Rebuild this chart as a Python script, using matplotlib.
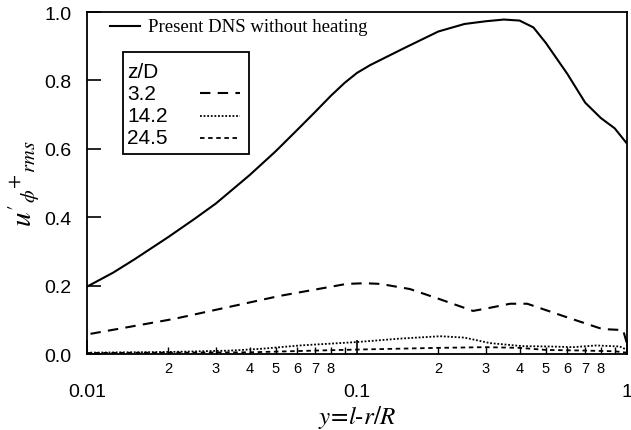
import matplotlib
matplotlib.use("Agg")
import matplotlib.pyplot as plt
from matplotlib.ticker import FixedLocator, FixedFormatter
from matplotlib.lines import Line2D
from matplotlib.patches import Rectangle

plt.rcParams['mathtext.fontset'] = 'stix'

# Present DNS without heating
x_dns = [0.010, 0.0125, 0.015, 0.020, 0.025, 0.030, 0.040, 0.050, 0.060, 0.070,
         0.080, 0.090, 0.10, 0.112, 0.15, 0.20, 0.25, 0.30, 0.35, 0.40, 0.45,
         0.50, 0.60, 0.70, 0.80, 0.90, 1.00]
y_dns = [0.197, 0.238, 0.277, 0.342, 0.395, 0.44, 0.523, 0.593, 0.655, 0.708,
         0.755, 0.793, 0.822, 0.845, 0.895, 0.943, 0.965, 0.973, 0.978, 0.975, 0.955,
         0.91, 0.82, 0.735, 0.69, 0.66, 0.615]

# z/D = 3.2
x_32 = [0.0103, 0.0211, 0.0518, 0.0915, 0.107, 0.122, 0.157, 0.203, 0.269,
        0.31, 0.369, 0.427, 0.596, 0.81, 0.967, 1.0]
y_32 = [0.059, 0.103, 0.17, 0.205, 0.207, 0.205, 0.19, 0.16, 0.126,
        0.135, 0.147, 0.147, 0.108, 0.073, 0.07, 0.03]

# z/D = 14.2
x_142 = [0.0103, 0.0203, 0.0339, 0.0438, 0.0615, 0.1, 0.144, 0.203, 0.25,
         0.31, 0.41, 0.52, 0.63, 0.77, 0.94, 1.0]
y_142 = [0.004, 0.006, 0.010, 0.015, 0.025, 0.035, 0.045, 0.052, 0.048,
         0.032, 0.023, 0.022, 0.020, 0.025, 0.022, 0.012]

# z/D = 24.5
x_245 = [0.01, 0.02, 0.04, 0.07, 0.1, 0.2, 0.3, 0.4, 0.5, 0.7, 0.9, 1.0]
y_245 = [0.003, 0.004, 0.005, 0.010, 0.013, 0.018, 0.020, 0.018, 0.012,
         0.010, 0.008, 0.004]

legend_title = 'z/D'
legend_labels = ['3.2', '14.2', '24.5']
header_label = 'Present DNS without heating'
major_x = [0.01, 0.1, 1]
major_x_labels = ['0.01', '0.1', '1']
minor_x = [2e-2, 3e-2, 4e-2, 5e-2, 6e-2, 7e-2, 8e-2, 9e-2,
           2e-1, 3e-1, 4e-1, 5e-1, 6e-1, 7e-1, 8e-1, 9e-1]
minor_x_labels = ['2', '3', '4', '5', '6', '7', '8', '',
                  '2', '3', '4', '5', '6', '7', '8', '']
y_ticks = [0.0, 0.2, 0.4, 0.6, 0.8, 1.0]

fig = plt.figure(figsize=(6.31, 4.31), dpi=100)
ax = fig.add_axes([0.1379, 0.1763, 0.8558, 0.7935])

sty_dns = dict(color='black', lw=1.5, ls='-')
sty_32 = dict(color='black', lw=1.5, ls=(0, (5, 3.5)))
sty_142 = dict(color='black', lw=1.3, ls=(0, (1, 1)))
sty_245 = dict(color='black', lw=1.3, ls=(0, (2.5, 2)))

ax.plot(x_dns, y_dns, **sty_dns)
ax.plot(x_32, y_32, **sty_32)
ax.plot(x_142, y_142, **sty_142)
ax.plot(x_245, y_245, **sty_245)

ax.set_xscale('log')
ax.set_xlim(0.01, 1)
ax.set_ylim(0, 1.0)

ax.xaxis.set_major_locator(FixedLocator(major_x))
ax.xaxis.set_major_formatter(FixedFormatter(major_x_labels))
ax.xaxis.set_minor_locator(FixedLocator(minor_x))
ax.xaxis.set_minor_formatter(FixedFormatter(minor_x_labels))
ax.set_yticks(y_ticks)
ax.set_yticklabels(['%.1f' % v for v in y_ticks])

ax.tick_params(axis='x', which='major', direction='in', length=10, width=1.2,
               pad=21, labelsize=14, top=False)
ax.tick_params(axis='x', which='minor', direction='in', length=5, width=1.0,
               pad=5, labelsize=10.5, top=False)
ax.tick_params(axis='y', which='major', direction='in', length=10, width=1.2,
               pad=11, labelsize=14, right=False)
for lab in ax.get_xticklabels() + ax.get_yticklabels() + ax.get_xticklabels(minor=True):
    lab.set_family('Liberation Sans')
for sp in ax.spines.values():
    sp.set_linewidth(1.3)

ax.set_xlabel(r"$y\!=\!\mathit{l}\text{-}r/R$", fontsize=18, labelpad=2)
ax.set_ylabel(r"$u'_{\phi}{}^{+}{}_{rms}$", fontsize=21, labelpad=2)

tr = ax.transAxes
# header legend
ax.add_line(Line2D([0.043, 0.098], [0.959, 0.959], transform=tr, **sty_dns))
ax.text(0.113, 0.959, header_label, transform=tr, ha='left', va='center',
        family='Liberation Serif', fontsize=13.5)

# z/D legend box
ax.add_patch(Rectangle((0.0667, 0.585), 0.2333, 0.298, transform=tr,
                       fill=False, edgecolor='black', lw=1.3))
rows_y = [0.8275, 0.763, 0.696, 0.632]
ax.text(0.074, rows_y[0], legend_title, transform=tr, ha='left', va='center',
        family='Liberation Sans', fontsize=15)
for yy, lab, sty in zip(rows_y[1:], legend_labels, [sty_32, sty_142, sty_245]):
    ax.text(0.074, yy, lab, transform=tr, ha='left', va='center',
            family='Liberation Sans', fontsize=15)
    ax.add_line(Line2D([0.209, 0.283], [yy, yy], transform=tr, **sty))

fig.savefig('out.png', dpi=100)
